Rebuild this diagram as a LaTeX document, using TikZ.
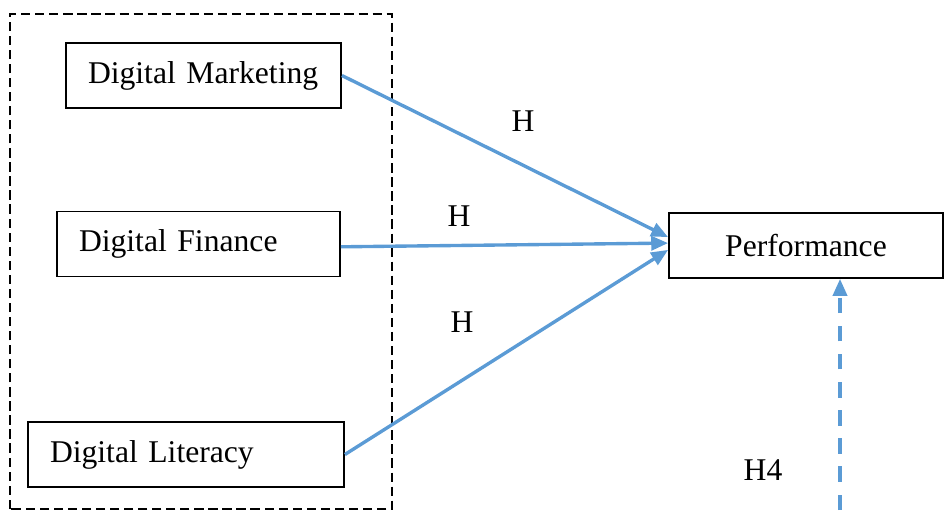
\documentclass[tikz,border=0pt]{standalone}
\usepackage{fontspec}
\setmainfont{Liberation Serif}
\usepackage{tikz}
\usetikzlibrary{arrows.meta, positioning}

\definecolor{linkblue}{HTML}{5B9BD5}

\begin{document}
\begin{tikzpicture}[
    txt/.style={font=\fontsize{22.5}{26}\selectfont},
    varbox/.style={txt, draw, line width=1.3pt, minimum height=1.625cm,
                   inner xsep=0.55cm, align=left},
    link/.style={-{Triangle[length=12pt,width=10pt]}, color=linkblue, line width=2.4pt}
  ]
  \useasboundingbox (0,0) rectangle (23.625,12.75);
  \draw[line width=1.8pt, dash pattern=on 6.6pt off 3.4pt] (0.25,0.025) rectangle (9.8,12.4);

  \node[varbox, text width=5.775cm] (dm) at (5.0875, 10.8625) {Digital Marketing};
  \node[varbox, text width=5.975cm] (df) at (4.9625, 6.65) {Digital Finance};
  \node[varbox, text width=6.8cm] (dl) at (4.65, 1.3875) {Digital Literacy};
  \node[txt, draw, line width=1.3pt, minimum height=1.625cm, minimum width=6.85cm] (perf) at (20.15, 6.6125) {Performance};

  \draw[link] (dm.east) -- ([yshift=0.21cm]perf.west);
  \draw[link] ([yshift=-0.07cm]df.east) -- ([yshift=0.06cm]perf.west);
  \draw[link] (dl.east) -- ([yshift=-0.11cm]perf.west);

  \coordinate (mod) at (21.0,0);
  \draw[link, dash pattern=on 11pt off 9pt] (mod) -- (mod |- perf.south);

  \node[txt] (h1) at (13.075, 9.725) {H};
  \node[txt] (h2) at (11.475, 7.35) {H};
  \node[txt] (h3) at (11.55, 4.7) {H};
  \node[txt] (h4) at (19.075, 1.0) {H4};
\end{tikzpicture}
\end{document}
